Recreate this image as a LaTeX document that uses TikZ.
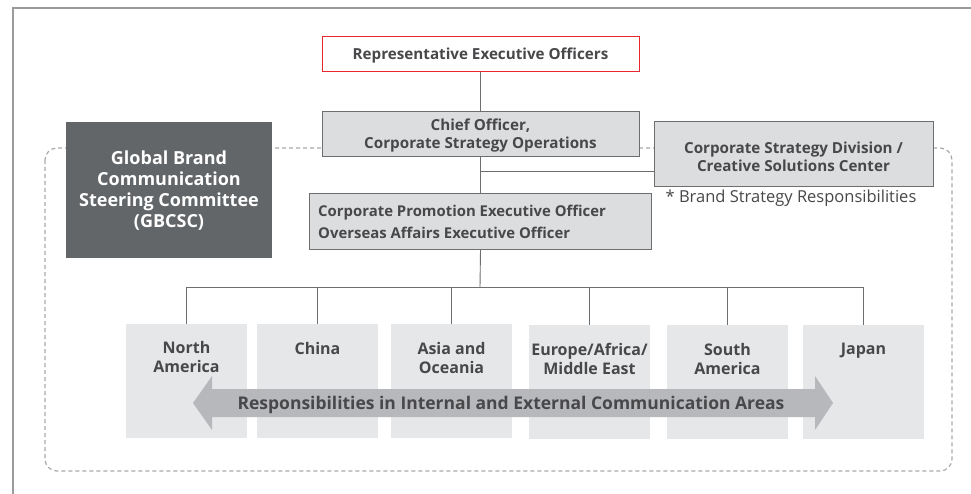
\documentclass[tikz,border=0pt]{standalone}
\usepackage{fontspec}
\setmainfont{Open Sans}
\usetikzlibrary{calc}
\definecolor{boxfill}{HTML}{DCDDDF}
\definecolor{boxline}{HTML}{6D6E70}
\definecolor{txt}{HTML}{48484A}
\definecolor{regfill}{HTML}{E6E7E8}
\definecolor{arrowc}{HTML}{B6B8BB}
\definecolor{gbc}{HTML}{636669}
\definecolor{dashc}{HTML}{A7A9AC}
\definecolor{redc}{HTML}{E8262D}
\definecolor{framec}{HTML}{9A9B9D}
\tikzset{
  graybox/.style={draw=boxline, line width=0.9pt, fill=boxfill, inner sep=0pt},
  boxtext/.style={text=txt, font=\bfseries\fontsize{15.2}{18}\selectfont, align=center, inner sep=0pt},
  regbox/.style={fill=regfill, inner sep=0pt, minimum width=121, minimum height=114},
  regtext/.style={anchor=north, text=txt, font=\bfseries\fontsize{16}{19}\selectfont, align=center, inner sep=0pt},
  conn/.style={draw=boxline, line width=0.9pt}
}
\begin{document}
\begin{tikzpicture}[x=1pt,y=-1pt]
\useasboundingbox (0,0) rectangle (971,494);
\fill[white] (0,0) rectangle (971,494);
% outer frame
\draw[framec, line width=1.3pt] (13,494) -- (13,8) -- (971,8);
% dashed frame
\draw[dashc, line width=1.2pt, dash pattern=on 4pt off 3pt, rounded corners=12pt] (45,148) rectangle (952,471);
% top boxes
\node[draw=redc, line width=1pt, fill=white, minimum width=317, minimum height=35, inner sep=0pt] (rep) at (480.5,54.5) {};
\node[boxtext] (trep) at ($(rep)+(0,1.5)$) {Representative Executive Officers};
\node[graybox, minimum width=317, minimum height=45] (chief) at (480.5,133.5) {};
\node[boxtext] (tchief) at ($(chief)+(0,2)$) {Chief Officer,\\Corporate Strategy Operations};
\node[graybox, minimum width=279, minimum height=65] (csd) at (793.5,153.5) {};
\node[boxtext] (tcsd) at ($(csd)+(0,3)$) {Corporate Strategy Division /\\Creative Solutions Center};
\node[anchor=north, text=txt, font=\fontsize{16.5}{18}\selectfont, inner sep=0pt] (note) at (791,190) {* Brand Strategy Responsibilities};
\node[graybox, minimum width=342, minimum height=56, anchor=west] (promo) at (309,221) {};
\node[boxtext, anchor=west, align=left, font=\bfseries\fontsize{14.9}{22}\selectfont] (tpromo) at ($(promo.west)+(9,0.5)$) {Corporate Promotion Executive Officer\\Overseas Affairs Executive Officer};
% GBCSC
\node[fill=gbc, minimum width=206, minimum height=136, inner sep=0pt] (gbcsc) at (169,190) {};
\node[text=white, font=\bfseries\fontsize{18}{21}\selectfont, align=center, inner sep=0pt] (tgbcsc) at ($(gbcsc)+(0,0.5)$) {Global Brand\\Communication\\Steering Committee\\(GBCSC)};
% connectors
\draw[conn] (rep) -- (chief);
\draw[conn] (chief) -- (promo.north -| chief.south);
\coordinate (j) at (480,171);
\draw[conn] (j) -- (j -| csd.west);
% regions
\node[regbox] (na) at (186.5,381) {};
\node[regbox] (cn) at (317.5,381) {};
\node[regbox] (as) at (451.5,381) {};
\node[regbox] (eu) at (589.5,382) {};
\node[regbox] (sa) at (727.5,382) {};
\node[regbox] (jp) at (863.5,382) {};
\node[regtext] (tna) at (186.5,341.5) {North\\America};
\node[regtext] (tcn) at (317.5,342.5) {China};
\node[regtext] (tas) at (451.5,342) {Asia and\\Oceania};
\node[regtext] (teu) at (589.5,343) {Europe/Africa/\\Middle East};
\node[regtext] (tsa) at (727.5,343) {South\\America};
\node[regtext] (tjp) at (863.5,343) {Japan};
\coordinate (bus) at (480,287);
\draw[conn] (chief.south |- promo.south) -- (bus);
\draw[conn] (na.north) -- (na.north |- bus) -- (jp.north |- bus) -- (jp.north);
\foreach \r in {cn,as,eu,sa}{\draw[conn] (\r.north) -- (\r.north |- bus);}
% arrow
\fill[arrowc] (193,403) -- (212,376) -- (212,389) -- (815,389) -- (815,376) -- (833,403) -- (815,430) -- (815,417) -- (212,417) -- (212,430) -- cycle;
\node[text=txt, font=\bfseries\fontsize{17.5}{20}\selectfont, inner sep=0pt] (arr) at (511,404.5) {Responsibilities in Internal and External Communication Areas};
\end{tikzpicture}
\end{document}
